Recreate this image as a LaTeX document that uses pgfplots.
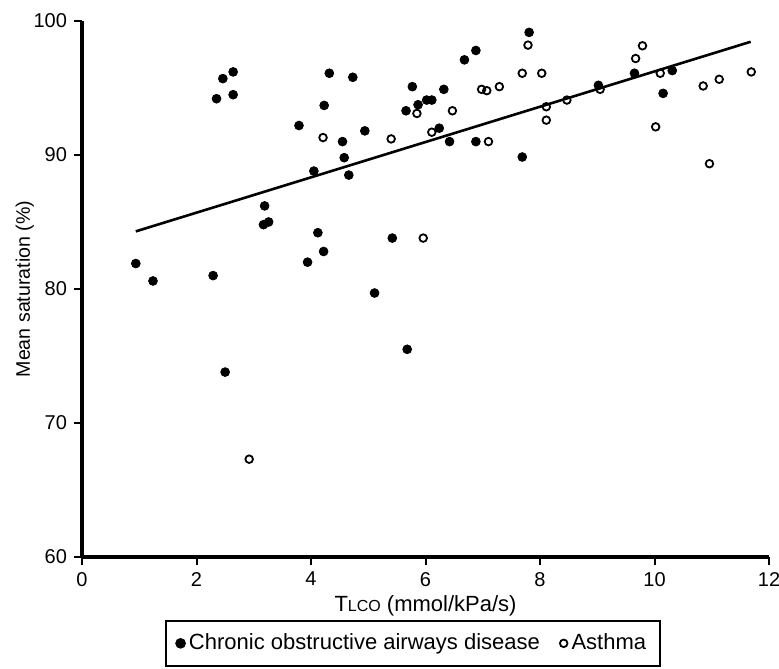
\documentclass[border=0pt]{standalone}
\usepackage{fontspec}
\setmainfont{Liberation Sans}
\usepackage{pgfplots}
\pgfplotsset{compat=1.18}
\begin{document}
\begin{tikzpicture}
\path[use as bounding box] (-41pt,-55.5pt) rectangle (348.5pt,278.5pt);
\begin{axis}[
  scale only axis, width=343.5pt, height=268pt,
  xmin=0, xmax=12, ymin=60, ymax=100,
  xtick={0,2,...,12}, ytick={60,70,80,90,100},
  axis lines=left, axis line style={-, line width=1.6pt},
  tick align=outside, tick style={line width=1pt, black}, major tick length=4pt,
  /pgf/number format/assume math mode=true,
  ticklabel style={font=\fontsize{10}{12}\selectfont},
  ylabel style={font=\fontsize{9.8}{12}\selectfont, yshift=-7pt},
  xlabel style={font=\fontsize{11}{13}\selectfont, yshift=2pt},
  xlabel={T{\fontsize{8}{9}\selectfont LCO} (mmol/kPa/s)},
  ylabel={Mean saturation (\%)},
  clip=false,
  legend style={at={(axis description cs:0.482,-0.1175)}, anchor=north,
    legend columns=2, draw=black, line width=0.9pt,
    font=\fontsize{11}{13}\selectfont,
    inner xsep=5pt, inner ysep=4.5pt,
    /tikz/every even column/.append style={column sep=8pt}},
  legend cell align=left,
]
\addplot[only marks, mark=*, mark size=2.2pt, black, mark options={fill=black}] coordinates {
(0.94,81.9) (1.24,80.6) (2.29,81.0) (2.35,94.2) (2.46,95.7) (2.64,96.2) (2.64,94.5)
(2.50,73.8) (3.17,84.8) (3.26,85.0) (3.19,86.2) (3.79,92.2) (3.94,82.0) (4.05,88.8)
(4.12,84.2) (4.22,82.8) (4.23,93.7) (4.32,96.1) (4.55,91.0) (4.58,89.8) (4.66,88.5)
(4.73,95.8) (4.94,91.8) (5.11,79.7) (5.42,83.8) (5.66,93.3) (5.68,75.5) (5.77,95.1)
(5.87,93.75) (6.02,94.1) (6.11,94.1) (6.24,92.0) (6.32,94.9) (6.42,91.0) (6.68,97.1)
(6.88,97.8) (6.88,91.0) (7.69,89.85) (7.81,99.15) (9.02,95.2) (9.65,96.1) (10.15,94.6)
(10.31,96.3)
};
\addlegendentry{Chronic obstructive airways disease}
\addplot[only marks, mark=o, mark size=1.9pt, black, mark options={line width=0.9pt, fill=white}] coordinates {
(2.92,67.3) (4.21,91.3) (5.40,91.2) (5.85,93.1) (5.96,83.8) (6.11,91.7) (6.47,93.3)
(6.98,94.9) (7.07,94.8) (7.10,91.0) (7.29,95.1) (7.69,96.1) (7.79,98.2) (8.03,96.1)
(8.11,93.6) (8.11,92.6) (8.47,94.1) (9.05,94.9) (9.67,97.2) (9.79,98.15) (10.02,92.1)
(10.10,96.1) (10.85,95.15) (10.96,89.35) (11.13,95.65) (11.69,96.2)
};
\addlegendentry{Asthma}
\addplot[black, line width=1.3pt, forget plot] coordinates {(0.94,84.3) (11.68,98.45)};
\end{axis}
\end{tikzpicture}
\end{document}
